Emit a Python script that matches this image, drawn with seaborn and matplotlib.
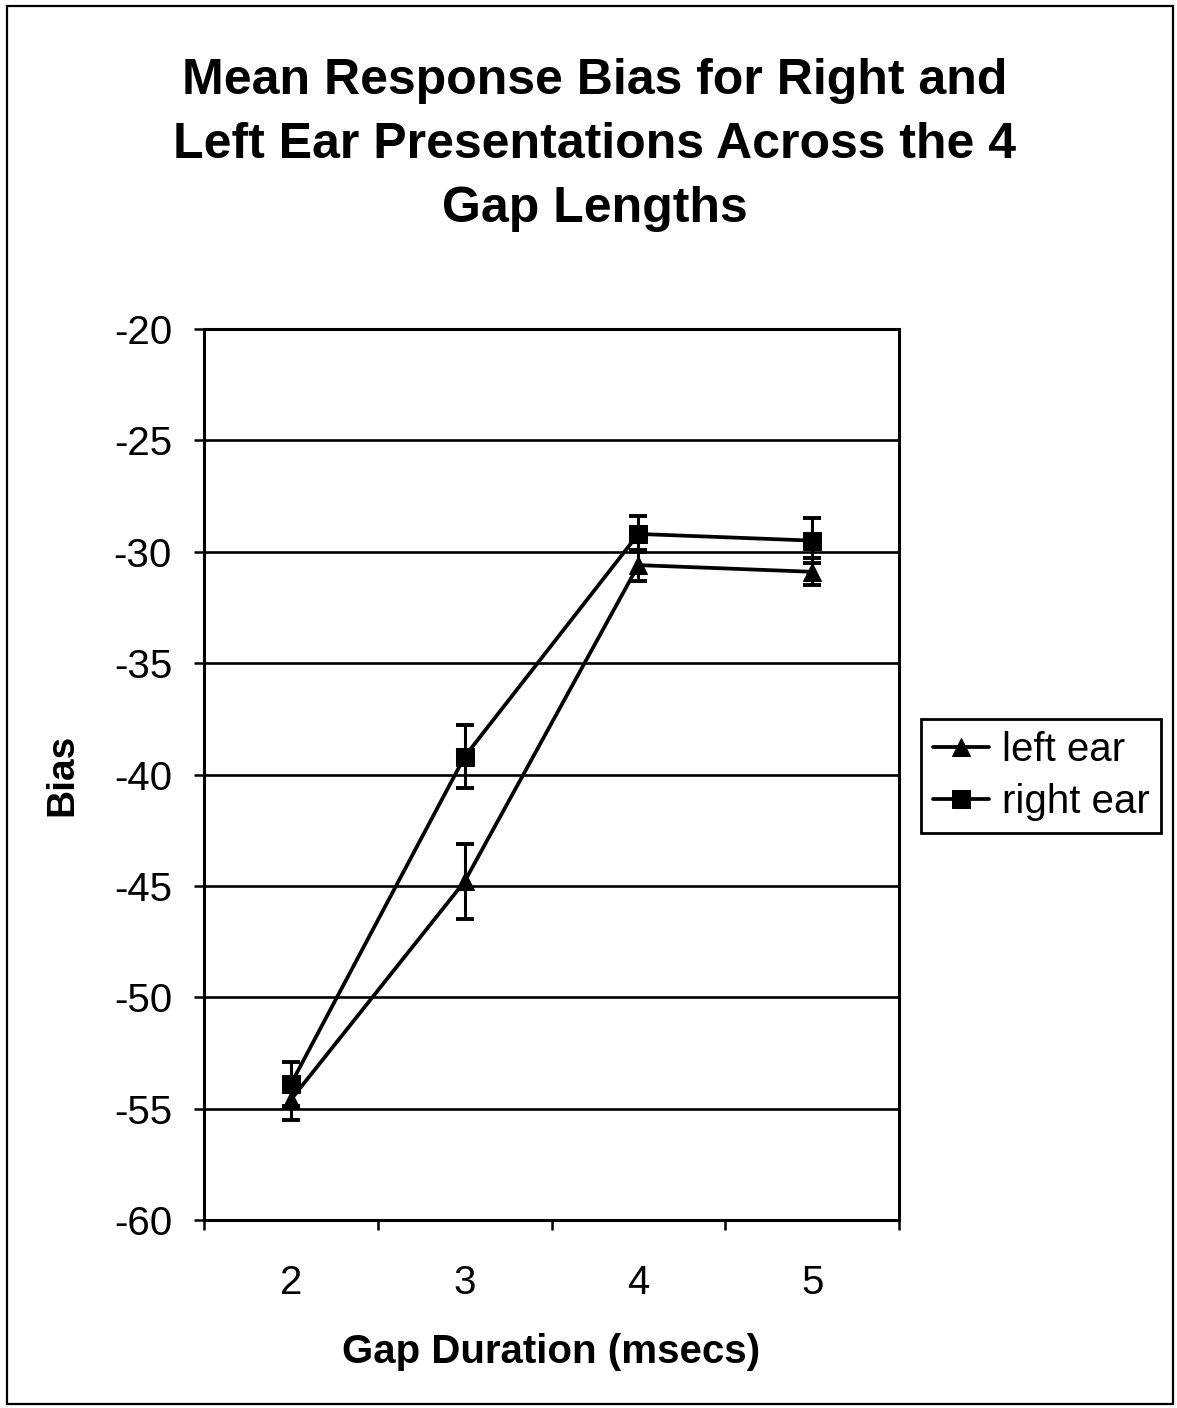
import pandas as pd
import matplotlib.pyplot as plt
import seaborn as sns
from matplotlib.patches import Rectangle
from matplotlib.ticker import FixedLocator

sns.set_style("white")
plt.rcParams["font.family"] = ["Liberation Sans", "DejaVu Sans"]
plt.rcParams["axes.unicode_minus"] = False
plt.rcParams["text.color"] = "black"
plt.rcParams["axes.labelcolor"] = "black"
plt.rcParams["xtick.color"] = "black"
plt.rcParams["ytick.color"] = "black"

# datos
gap_ms = [2, 3, 4, 5]
left_bias = [-54.6, -44.8, -30.6, -30.9]
left_err = [0.9, 1.7, 0.7, 0.6]
right_bias = [-53.9, -39.2, -29.2, -29.5]
right_err = [1.0, 1.4, 0.8, 1.0]
ear_labels = ["left ear", "right ear"]

df = pd.DataFrame({
    "gap": gap_ms * 2,
    "bias": left_bias + right_bias,
    "err": left_err + right_err,
    "ear": [ear_labels[0]] * 4 + [ear_labels[1]] * 4,
})

fig = plt.figure(figsize=(11.77, 14.08), dpi=100)
ax = fig.add_axes([204 / 1177, 1 - 1220 / 1408, 695 / 1177, 891 / 1408])

sns.lineplot(
    data=df, x="gap", y="bias", style="ear",
    markers={"left ear": "^", "right ear": "s"}, dashes=False,
    color="black", linewidth=2.7, markersize=13,
    markeredgecolor="black", ax=ax, legend=True,
)

for ear, g in df.groupby("ear"):
    ax.errorbar(g["gap"], g["bias"], yerr=g["err"], fmt="none",
                ecolor="black", elinewidth=2.2, capsize=6.5, capthick=2.8, zorder=3)

# ejes
ax.set_xlim(1.5, 5.5)
ax.set_ylim(-60, -20)
ax.set_yticks(range(-60, -19, 5))
ax.set_xticks(gap_ms)
ax.set_xticklabels([str(g) for g in gap_ms])
ax.xaxis.set_minor_locator(FixedLocator([1.5, 2.5, 3.5, 4.5, 5.5]))
ax.tick_params(axis="x", which="major", length=0, pad=32, labelsize=29)
ax.tick_params(axis="x", which="minor", length=7, width=1.8, direction="out", bottom=True)
ax.tick_params(axis="y", which="major", length=7, width=1.8, direction="out",
               left=True, pad=16, labelsize=29)

ax.yaxis.grid(True, color="black", linewidth=1.9)
ax.xaxis.grid(False)
for s in ax.spines.values():
    s.set_color("black")
    s.set_linewidth(2.2)

ax.set_xlabel("Gap Duration (msecs)", fontsize=29, fontweight="bold")
ax.xaxis.set_label_coords(0.5, -0.127)
ax.set_ylabel("Bias", fontsize=28, fontweight="bold")
ax.yaxis.set_label_coords(-0.178, 0.5)

handles, labels = ax.get_legend_handles_labels()
ax.legend(handles, labels, loc="center left",
          bbox_to_anchor=(921 / 1177, 1 - 776 / 1408), bbox_transform=fig.transFigure,
          frameon=True, fancybox=False, edgecolor="black", framealpha=1,
          fontsize=29, handlelength=1.4, handletextpad=0.3, borderpad=0.3,
          labelspacing=0.35, borderaxespad=0)
ax.get_legend().get_frame().set_linewidth(2)

fig.text(0.5055, 1 - 58 / 1408,
         "Mean Response Bias for Right and\nLeft Ear Presentations Across the 4\nGap Lengths",
         ha="center", va="top", fontsize=36, fontweight="bold", linespacing=1.5)

# marco exterior
fig.patches.append(Rectangle((7 / 1177, 4 / 1408), 1166 / 1177, 1398 / 1408,
                             transform=fig.transFigure, fill=False,
                             edgecolor="black", linewidth=1.6))

plt.savefig("out.png", dpi=100)
